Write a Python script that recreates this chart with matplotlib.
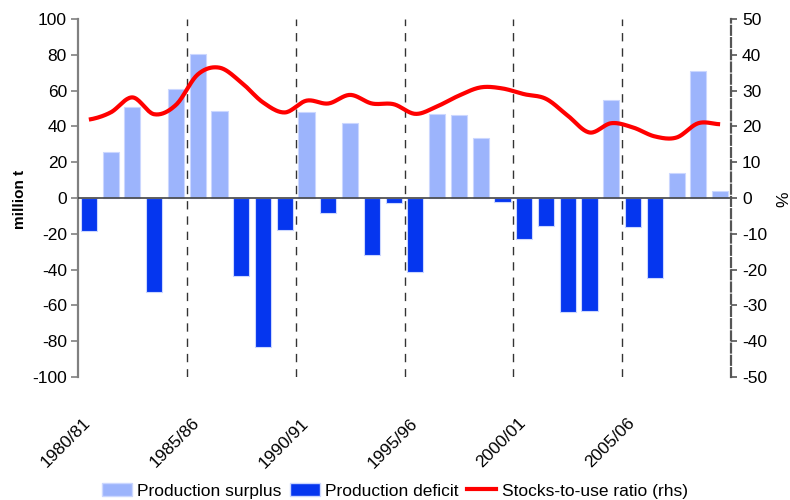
import numpy as np
import matplotlib
matplotlib.use("Agg")
import matplotlib.pyplot as plt
import matplotlib.transforms as mtransforms
from matplotlib.patches import Patch
from matplotlib.lines import Line2D

plt.rcParams['font.family'] = ['Liberation Sans', 'DejaVu Sans']
plt.rcParams['axes.unicode_minus'] = False

years = ["1980/81", "1981/82", "1982/83", "1983/84", "1984/85", "1985/86", "1986/87",
         "1987/88", "1988/89", "1989/90", "1990/91", "1991/92", "1992/93", "1993/94",
         "1994/95", "1995/96", "1996/97", "1997/98", "1998/99", "1999/00", "2000/01",
         "2001/02", "2002/03", "2003/04", "2004/05", "2005/06", "2006/07", "2007/08",
         "2008/09", "2009/10"]
balance = [-18.5, 25.9, 50.7, -52.7, 60.9, 80.6, 48.7, -43.7, -83.4, -17.8,
           48.0, -8.5, 41.7, -31.8, -2.8, -41.5, 47.2, 46.5, 33.5, -2.0,
           -22.8, -15.4, -63.9, -63.1, 55.0, -16.1, -44.5, 13.7, 70.7, 3.7]
ratio = [21.9, 23.9, 28.1, 23.4, 26.0, 34.5, 36.4, 32.3, 26.7, 23.9,
         27.2, 26.4, 28.8, 26.4, 26.2, 23.5, 25.6, 28.6, 30.9, 30.6,
         29.0, 27.7, 23.0, 18.3, 20.9, 19.7, 17.2, 16.9, 20.9, 20.6]
label_years = ["1980/81", "1985/86", "1990/91", "1995/96", "2000/01", "2005/06"]

surplus_color = '#9CB4FC'
deficit_color = '#0536EF'
edge_color = '#CBD7FF'
FS = 12.5

fig = plt.figure(figsize=(7.9, 5.0), dpi=100)
ax = fig.add_axes([78/790, 1-377/500, (731-78)/790, (377-19)/500])

n = len(years)
x = np.arange(n) + 0.5
bal = np.array(balance)
surplus = np.where(bal > 0, bal, 0)
deficit = np.where(bal < 0, bal, 0)
ax.bar(x, surplus, width=0.74, color=surplus_color, edgecolor=edge_color, linewidth=0.8, zorder=2)
ax.bar(x, deficit, width=0.74, color=deficit_color, edgecolor=edge_color, linewidth=0.8, zorder=2)

ax.set_xlim(0, n)
ax.set_ylim(-100, 100)
ax.set_yticks(np.arange(-100, 101, 20))
ax.axhline(0, color='#444444', lw=1.2, zorder=3)
for b in range(5, n, 5):
    ax.axvline(b, color='#333333', lw=1.0, ls=(0, (6, 5)), zorder=1)

ax.spines['top'].set_visible(False)
ax.spines['right'].set_visible(False)
ax.spines['bottom'].set_visible(False)
ax.spines['left'].set_color('#808080')
ax.spines['left'].set_linewidth(1.6)
ax.tick_params(axis='y', direction='out', length=5, width=1.2, color='#808080',
               labelsize=FS, pad=3)
tick_pos = [x[years.index(y)] for y in label_years]
ax.set_xticks(tick_pos)
ax.set_xticklabels(label_years, rotation=45, ha='right', rotation_mode='anchor', fontsize=FS)
ax.tick_params(axis='x', length=0, pad=24)
offset = mtransforms.ScaledTranslation(-6/100, -5/100, fig.dpi_scale_trans)
for lbl in ax.get_xticklabels():
    lbl.set_transform(lbl.get_transform() + offset)

ax2 = ax.twinx()
# smooth rendering of the ratio line (Catmull-Rom)
r = np.array(ratio)
xs, ys = [], []
p = np.concatenate([[r[0]], r, [r[-1]]])
px = np.concatenate([[x[0] - 1], x, [x[-1] + 1]])
t = np.linspace(0, 1, 20, endpoint=False)
for i in range(1, len(p) - 2):
    p0, p1, p2, p3 = p[i-1], p[i], p[i+1], p[i+2]
    yy = 0.5 * ((2*p1) + (-p0 + p2)*t + (2*p0 - 5*p1 + 4*p2 - p3)*t**2 + (-p0 + 3*p1 - 3*p2 + p3)*t**3)
    xx = px[i] + t * (px[i+1] - px[i])
    xs.extend(xx); ys.extend(yy)
xs.append(x[-1]); ys.append(r[-1])
ax2.plot(xs, ys, color='#FF0000', lw=3, solid_capstyle='butt', zorder=4)
ax2.set_ylim(-50, 50)
ax2.set_yticks(np.arange(-50, 51, 10))
ax2.set_xlim(0, n)
for s in ['top', 'left', 'bottom']:
    ax2.spines[s].set_visible(False)
ax2.spines['right'].set_color('#555555')
ax2.spines['right'].set_linewidth(1.6)
ax2.spines['right'].set_linestyle((0, (4, 1.5)))
ax2.tick_params(axis='y', direction='out', length=4, width=1.2, color='#555555',
                labelsize=FS, pad=4)

fig.text(20/790, 1-199/500, 'million t', rotation=90, ha='center', va='center',
         fontsize=11, fontweight='bold')
fig.text(784/790, 1-199/500, '%', rotation=90, ha='center', va='center', fontsize=FS)

handles = [Patch(facecolor=surplus_color, edgecolor=edge_color),
           Patch(facecolor=deficit_color, edgecolor=edge_color),
           Line2D([0], [0], color='#FF0000', lw=3)]
fig.legend(handles, ['Production surplus', 'Production deficit', 'Stocks-to-use ratio (rhs)'],
           loc='center', bbox_to_anchor=(0.5, 1-491/500), ncol=3, frameon=False,
           fontsize=FS, handlelength=1.7, handleheight=0.7, handletextpad=0.3,
           columnspacing=0.5, borderpad=0)

fig.savefig('out.png', dpi=100)
